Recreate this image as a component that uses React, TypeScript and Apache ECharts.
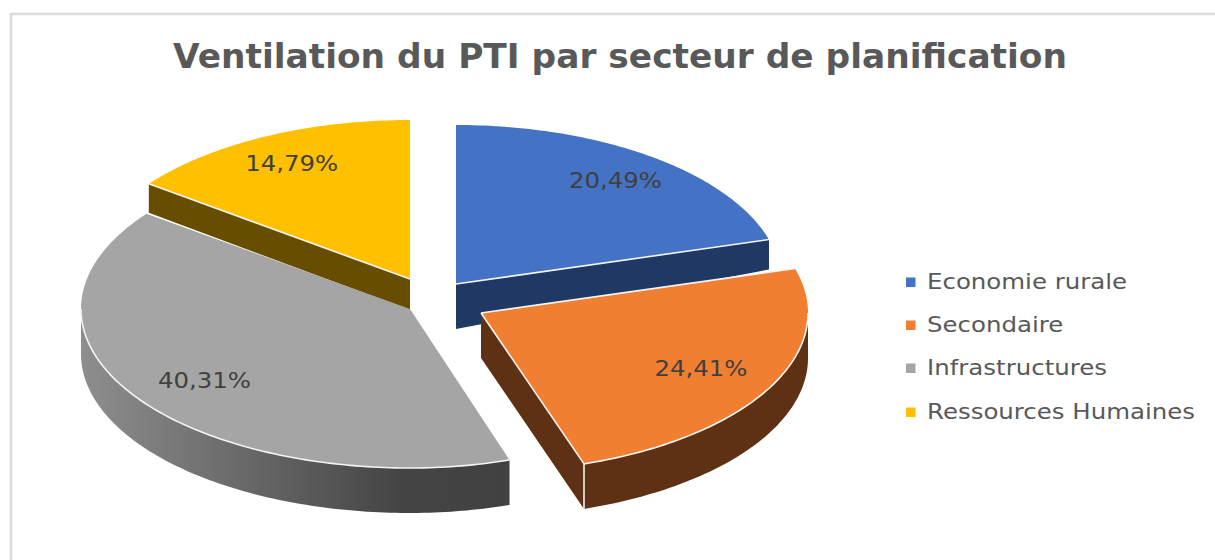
import React, { useEffect, useRef } from "react";
import * as echarts from "echarts";

const TITLE = "Ventilation du PTI par secteur de planification";
const categories = ["Economie rurale", "Secondaire", "Infrastructures", "Ressources Humaines"];
const shares = [20.49, 24.41, 40.31, 14.79];

const topColors = ["#4472C4", "#F07F31", "#A5A5A5", "#FFC000"];
const wallColors = ["#203864", "#5F3114", "#666666", "#664D00"];
const apexes = [[456, 284], [481, 313], [410, 309], [410, 279]];
const apexDepths = [45, 45, 45, 31];
const rimDepths = [30, 45, 45, 29];
const labelRadii = [0.815, 0.76, 0.77, 0.81];
const seriesZ = [2, 4, 3, 2];
const rightRadii = [326, 327, 316, 327];
const leftRadii = [327, 327, 329, 326];
const legendRows = [282, 325, 368, 412];

const RY = 159;
const TOTAL = shares.reduce((s, v) => s + v, 0);

function startAngle(i: number) {
  let sum = 0;
  for (let k = 0; k < i; k++) sum += shares[k];
  return (sum / TOTAL) * 360;
}
function at(i: number, deg: number, r = 1, dy = 0) {
  const c = apexes[i];
  const t = (deg * Math.PI) / 180;
  const sin = Math.sin(t);
  const rx = sin >= 0 ? rightRadii[i] : leftRadii[i];
  return [c[0] + rx * r * sin, c[1] - RY * r * Math.cos(t) + dy];
}
function arc(i: number, from: number, to: number, dy = 0) {
  const pts: number[][] = [];
  const steps = Math.max(2, Math.ceil(Math.abs(to - from)));
  for (let s = 0; s <= steps; s++) pts.push(at(i, from + ((to - from) * s) / steps, 1, dy));
  return pts;
}

function makeRenderItem(i: number) {
  return (_params: any, api: any) => {
    const value = api.value(0) as number;
    const from = startAngle(i);
    const to = from + (value / TOTAL) * 360;
    const c = apexes[i];
    const children: any[] = [];
    const white = { stroke: "#F4F4F4", lineWidth: 1.6, fill: "none" };

    // Rim wall: only the part of the rim facing the viewer
    const wFrom = Math.max(from, 90);
    const wTo = Math.min(to, 270);
    const hasRim = wTo > wFrom;
    if (hasRim) {
      const pts = [...arc(i, wFrom, wTo), ...arc(i, wTo, wFrom, rimDepths[i])];
      const fill =
        i === 2
          ? new echarts.graphic.LinearGradient(1, 0, 0, 0, [
              { offset: 0, color: "#414141" },
              { offset: 0.25, color: "#444444" },
              { offset: 1, color: "#8E8E8E" },
            ])
          : wallColors[i];
      children.push({ type: "polygon", shape: { points: pts }, style: { fill } });
    }

    // Radial wall on the cut edge facing the viewer
    const edge = i === 3 ? from : i === 2 ? null : to;
    if (edge !== null) {
      const rim = at(i, edge);
      children.push({
        type: "polygon",
        shape: {
          points: [c, rim, [rim[0], rim[1] + rimDepths[i]], [c[0], c[1] + apexDepths[i]]],
        },
        style: { fill: wallColors[i] },
      });
    }

    // Top face
    children.push({
      type: "polygon",
      shape: { points: [c, ...arc(i, from, to)] },
      style: { fill: topColors[i] },
    });

    // White highlights
    if (hasRim) children.push({ type: "polyline", shape: { points: arc(i, wFrom, wTo) }, style: white });
    if (edge !== null) children.push({ type: "polyline", shape: { points: [c, at(i, edge)] }, style: white });
    if (i === 1) {
      const rim = at(i, to);
      children.push({ type: "polyline", shape: { points: [rim, [rim[0], rim[1] + rimDepths[i]]] }, style: white });
      children.push({ type: "polyline", shape: { points: [c, at(i, from)] }, style: white });
    }

    // Percentage label
    const mid = (from + to) / 2;
    const p = at(i, mid, labelRadii[i]);
    children.push({
      type: "text",
      x: p[0],
      y: p[1],
      scaleX: 1.19,
      style: {
        text: value.toFixed(2).replace(".", ",") + "%",
        fontFamily: "DejaVu Sans",
        fontSize: 20.5,
        fill: "#404040",
        align: "center",
        verticalAlign: "middle",
      },
    });
    return { type: "group", children };
  };
}

export default function App() {
  const ref = useRef<HTMLDivElement>(null);
  useEffect(() => {
    document.body.style.margin = "0";
    const chart = echarts.init(ref.current!, null, { renderer: "svg" });
    const legendItems = categories.flatMap((name, i) => [
      {
        type: "rect",
        silent: true,
        shape: { x: 906, y: legendRows[i] - 4.5, width: 9.5, height: 9.5 },
        style: { fill: topColors[i] },
      },
      {
        type: "text",
        silent: true,
        x: 927,
        y: legendRows[i],
        scaleX: 1.165,
        style: {
          text: name,
          fontFamily: "DejaVu Sans",
          fontSize: 21,
          fill: "#595959",
          align: "left",
          verticalAlign: "middle",
        },
      },
    ]);
    chart.setOption({
      animation: false,
      backgroundColor: "#FFFFFF",
      title: {
        text: TITLE,
        left: 168,
        top: 34,
        textStyle: { fontFamily: "DejaVu Sans", fontSize: 34.4, fontWeight: "bold", color: "#595959" },
      },
      graphic: [
        {
          type: "rect",
          silent: true,
          z: 0,
          shape: { x: 11, y: 14, width: 1400, height: 800 },
          style: { fill: "none", stroke: "#DCDCDC", lineWidth: 2.5 },
        },
        ...legendItems,
      ],
      series: categories.map((name, i) => ({
        type: "custom",
        name,
        coordinateSystem: "none",
        z: seriesZ[i],
        silent: true,
        itemStyle: { color: topColors[i] },
        data: [[shares[i]]],
        renderItem: makeRenderItem(i),
      })),
    });
    return () => chart.dispose();
  }, []);
  return <div ref={ref} style={{ width: 1215, height: 560 }} />;
}
